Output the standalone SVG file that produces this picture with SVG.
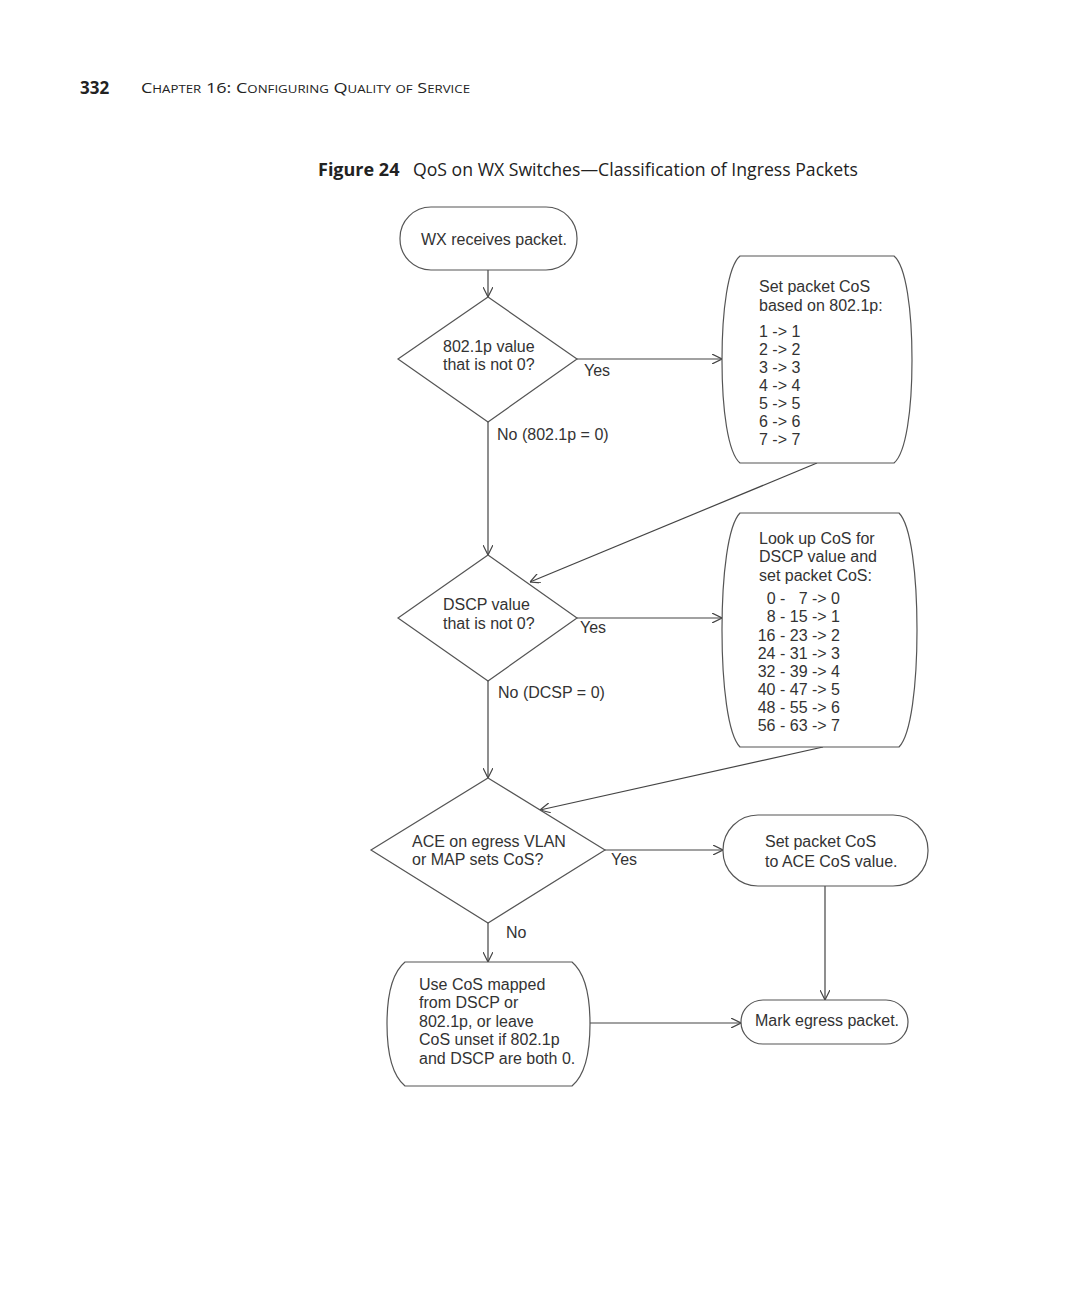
<svg xmlns="http://www.w3.org/2000/svg" width="1080" height="1296" viewBox="0 0 1080 1296">
<style>
.hd{font-family:"Open Sans","Noto Sans",sans-serif;fill:#222}
.t{font-family:"Liberation Sans",Arial,sans-serif;font-size:16px;fill:#333}
.shape{fill:#fff;stroke:#555;stroke-width:1.2}
.conn line{stroke:#444;stroke-width:1.2;fill:none;marker-end:url(#arr)}
.conn line.plain{marker-end:none}
</style>
<defs>
<marker id="arr" viewBox="0 0 10 10" refX="10" refY="5" markerWidth="10" markerHeight="10" markerUnits="userSpaceOnUse" orient="auto">
<path d="M0,0 L10,5 L0,10" fill="none" stroke="#444" stroke-width="1.2"/>
</marker>
</defs>
<rect width="1080" height="1296" fill="#fff"/>
<g id="header">
<text class="hd" x="80" y="94" font-size="17" font-weight="bold">332</text>
<text class="hd" x="141" y="93" font-size="15" style="font-variant:small-caps" textLength="329" lengthAdjust="spacingAndGlyphs">Chapter 16: Configuring Quality of Service</text>
</g>
<g id="title">
<text class="hd" x="318" y="176" font-size="18" font-weight="bold">Figure 24</text>
<text class="hd" x="413" y="176" font-size="18" textLength="445" lengthAdjust="spacingAndGlyphs">QoS on WX Switches—Classification of Ingress Packets</text>
</g>
<g id="connectors" class="conn">
<line x1="488" y1="270" x2="488" y2="297"/>
<line x1="577" y1="359" x2="722" y2="359"/>
<line x1="488" y1="422" x2="488" y2="555"/>
<line x1="817" y1="463" x2="530" y2="582"/>
<line x1="577" y1="618" x2="722" y2="618"/>
<line x1="488" y1="681" x2="488" y2="778"/>
<line x1="823" y1="747" x2="540" y2="810"/>
<line x1="605" y1="850" x2="723" y2="850"/>
<line x1="488" y1="923" x2="488" y2="962"/>
<line x1="590" y1="1023" x2="741" y2="1023"/>
<line x1="825" y1="886" x2="825" y2="1000"/>
<text class="t" x="584" y="376">Yes</text>
<text class="t" x="497" y="440">No (802.1p = 0)</text>
<text class="t" x="580" y="633">Yes</text>
<text class="t" x="498" y="698">No (DCSP = 0)</text>
<text class="t" x="611" y="865">Yes</text>
<text class="t" x="506" y="938">No</text>
</g>
<g id="start">
<rect class="shape" x="400" y="207" width="177" height="63" rx="31" ry="31"/>
<text class="t" x="421" y="245">WX receives packet.</text>
</g>
<g id="dec1">
<polygon class="shape" points="488,297 577,359 488,422 398,359"/>
<text class="t" x="443" y="352">802.1p value</text>
<text class="t" x="443" y="370">that is not 0?</text>
</g>
<g id="set8021p">
<path class="shape" d="M740,256 H894 C906,266 912,310 912,360 C912,410 906,453 894,463 H740 C728,453 722,410 722,360 C722,310 728,266 740,256 Z"/>
<text class="t" x="759" y="292">Set packet CoS</text>
<text class="t" x="759" y="311">based on 802.1p:</text>
<text class="t" x="759" y="337">1 -&gt; 1</text>
<text class="t" x="759" y="355">2 -&gt; 2</text>
<text class="t" x="759" y="373">3 -&gt; 3</text>
<text class="t" x="759" y="391">4 -&gt; 4</text>
<text class="t" x="759" y="409">5 -&gt; 5</text>
<text class="t" x="759" y="427">6 -&gt; 6</text>
<text class="t" x="759" y="445">7 -&gt; 7</text>
</g>
<g id="dec2">
<polygon class="shape" points="488,555 577,618 488,681 398,618"/>
<text class="t" x="443" y="610">DSCP value</text>
<text class="t" x="443" y="629">that is not 0?</text>
</g>
<g id="dscpmap">
<path class="shape" d="M740,513 H899 C911,525 917,575 917,630 C917,685 911,735 899,747 H740 C728,735 722,685 722,630 C722,575 728,525 740,513 Z"/>
<text class="t" x="759" y="544">Look up CoS for</text>
<text class="t" x="759" y="562">DSCP value and</text>
<text class="t" x="759" y="581">set packet CoS:</text>
<g text-anchor="end">
<text class="t" x="840" y="604" xml:space="preserve">0 -   7 -&gt; 0</text>
<text class="t" x="840" y="622">8 - 15 -&gt; 1</text>
<text class="t" x="840" y="641">16 - 23 -&gt; 2</text>
<text class="t" x="840" y="659">24 - 31 -&gt; 3</text>
<text class="t" x="840" y="677">32 - 39 -&gt; 4</text>
<text class="t" x="840" y="695">40 - 47 -&gt; 5</text>
<text class="t" x="840" y="713">48 - 55 -&gt; 6</text>
<text class="t" x="840" y="731">56 - 63 -&gt; 7</text>
</g>
</g>
<g id="dec3">
<polygon class="shape" points="488,778 605,850 488,923 371,850"/>
<text class="t" x="412" y="847">ACE on egress VLAN</text>
<text class="t" x="412" y="865">or MAP sets CoS?</text>
</g>
<g id="aceset">
<rect class="shape" x="723" y="815" width="205" height="71" rx="35" ry="35"/>
<text class="t" x="765" y="847">Set packet CoS</text>
<text class="t" x="765" y="867">to ACE CoS value.</text>
</g>
<g id="usemapped">
<path class="shape" d="M405,962 H572 C584,972 590,995 590,1024 C590,1053 584,1076 572,1086 H405 C393,1076 387,1053 387,1024 C387,995 393,972 405,962 Z"/>
<text class="t" x="419" y="990">Use CoS mapped</text>
<text class="t" x="419" y="1008">from DSCP or</text>
<text class="t" x="419" y="1027">802.1p, or leave</text>
<text class="t" x="419" y="1045">CoS unset if 802.1p</text>
<text class="t" x="419" y="1064">and DSCP are both 0.</text>
</g>
<g id="mark">
<rect class="shape" x="741" y="1000" width="167" height="44" rx="22" ry="22"/>
<text class="t" x="755" y="1026">Mark egress packet.</text>
</g>
</svg>
